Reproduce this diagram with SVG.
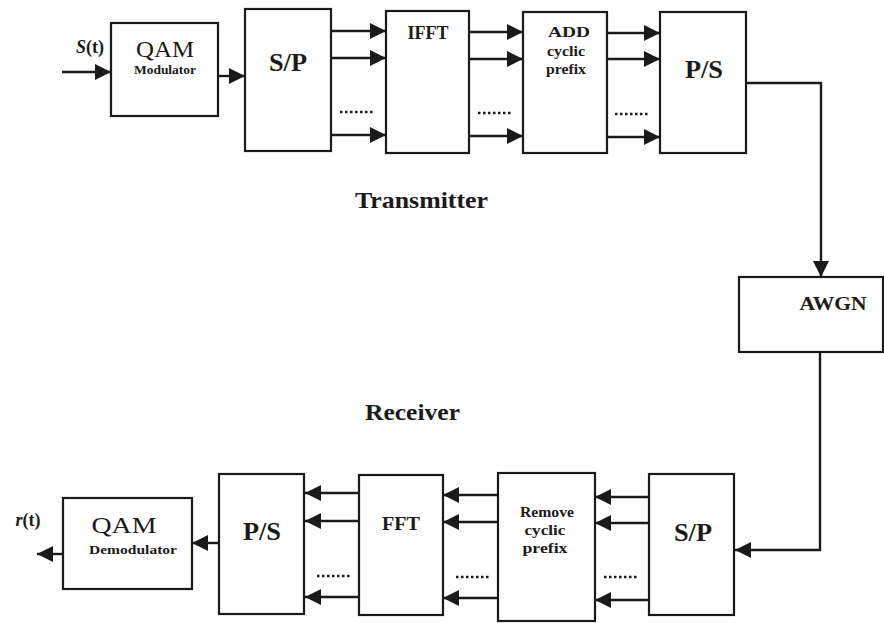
<svg xmlns="http://www.w3.org/2000/svg" width="884" height="623" viewBox="0 0 884 623">
  <style>
    .box { fill: #ffffff; stroke: #1a1a1a; stroke-width: 2.2; }
    .arr { fill: none; stroke: #1a1a1a; stroke-width: 2.4; marker-end: url(#ah); }
    .dots { fill: none; stroke: #1a1a1a; stroke-width: 2.5; stroke-dasharray: 2.5 2.5; }
    text { fill: #1a1a1a; text-anchor: middle; }
    .b { font-weight: bold; }
  </style>
  <defs>
    <marker id="ah" markerUnits="userSpaceOnUse" markerWidth="18" markerHeight="16" refX="16" refY="8" orient="auto">
      <path d="M0,0 L16,8 L0,16 z" fill="#1a1a1a"/>
    </marker>
  </defs>
  <rect x="0" y="0" width="884" height="623" fill="#ffffff"/>

  <g id="connectors">
    <line class="arr" x1="62" y1="72" x2="111" y2="72"/>
    <line class="arr" x1="218" y1="76" x2="245" y2="76"/>
    <line class="arr" x1="331" y1="31" x2="386" y2="31"/>
    <line class="arr" x1="331" y1="58" x2="386" y2="58"/>
    <line class="arr" x1="331" y1="135" x2="386" y2="135"/>
    <line class="dots" x1="340" y1="112" x2="374" y2="112"/>
    <line class="arr" x1="469" y1="32" x2="523" y2="32"/>
    <line class="arr" x1="469" y1="59" x2="523" y2="59"/>
    <line class="arr" x1="469" y1="136" x2="523" y2="136"/>
    <line class="dots" x1="478" y1="113" x2="512" y2="113"/>
    <line class="arr" x1="607" y1="33" x2="660" y2="33"/>
    <line class="arr" x1="607" y1="59" x2="660" y2="59"/>
    <line class="arr" x1="607" y1="137" x2="660" y2="137"/>
    <line class="dots" x1="615" y1="114" x2="649" y2="114"/>
    <polyline class="arr" points="746,83 821,83 821,277"/>
    <polyline class="arr" points="820,352 820,550 735,550"/>
    <line class="arr" x1="649" y1="497" x2="595" y2="497"/>
    <line class="arr" x1="649" y1="523" x2="595" y2="523"/>
    <line class="arr" x1="649" y1="600" x2="595" y2="600"/>
    <line class="dots" x1="604" y1="577" x2="638" y2="577"/>
    <line class="arr" x1="498" y1="495" x2="443" y2="495"/>
    <line class="arr" x1="498" y1="522" x2="443" y2="522"/>
    <line class="arr" x1="498" y1="598" x2="443" y2="598"/>
    <line class="dots" x1="456" y1="577" x2="490" y2="577"/>
    <line class="arr" x1="359" y1="493" x2="305" y2="493"/>
    <line class="arr" x1="359" y1="521" x2="305" y2="521"/>
    <line class="arr" x1="359" y1="597" x2="305" y2="597"/>
    <line class="dots" x1="317" y1="576" x2="352" y2="576"/>
    <line class="arr" x1="219" y1="543" x2="192" y2="543"/>
    <line class="arr" x1="63" y1="554" x2="37" y2="554"/>
  </g>

  <g font-family="Liberation Serif, serif">
  <g id="labels">
    <text x="90" y="53" font-size="18" class="b"><tspan font-style="italic">S</tspan>(t)</text>
    <text x="28" y="526" font-size="18" class="b"><tspan font-style="italic">r</tspan>(t)</text>
    <text x="421.5" y="208" font-size="23" class="b" textLength="133" lengthAdjust="spacingAndGlyphs">Transmitter</text>
    <text x="412.5" y="420" font-size="23" class="b" textLength="95" lengthAdjust="spacingAndGlyphs">Receiver</text>
  </g>

  <g id="qam-mod">
    <rect class="box" x="111" y="23" width="107" height="93"/>
    <text x="165" y="57" font-size="23" textLength="58" lengthAdjust="spacingAndGlyphs">QAM</text>
    <text x="165" y="74" font-size="12" class="b" textLength="62" lengthAdjust="spacingAndGlyphs">Modulator</text>
  </g>
  <g id="sp-tx">
    <rect class="box" x="245" y="9" width="86" height="142"/>
    <text x="288" y="71" font-size="26" class="b" textLength="38" lengthAdjust="spacingAndGlyphs">S/P</text>
  </g>
  <g id="ifft">
    <rect class="box" x="386" y="11" width="83" height="142"/>
    <text x="428" y="39" font-size="19" class="b" textLength="41" lengthAdjust="spacingAndGlyphs">IFFT</text>
  </g>
  <g id="add-cp">
    <rect class="box" x="523" y="12" width="84" height="141"/>
    <text x="569" y="37" font-size="14" class="b" textLength="42" lengthAdjust="spacingAndGlyphs">ADD</text>
    <text x="566" y="56" font-size="15" class="b" textLength="38" lengthAdjust="spacingAndGlyphs">cyclic</text>
    <text x="566" y="74" font-size="15" class="b" textLength="40" lengthAdjust="spacingAndGlyphs">prefix</text>
  </g>
  <g id="ps-tx">
    <rect class="box" x="660" y="12" width="86" height="141"/>
    <text x="704" y="78" font-size="26" class="b" textLength="38" lengthAdjust="spacingAndGlyphs">P/S</text>
  </g>
  <g id="awgn">
    <rect class="box" x="739" y="277" width="144" height="75"/>
    <text x="833" y="310" font-size="19" class="b" textLength="67" lengthAdjust="spacingAndGlyphs">AWGN</text>
  </g>
  <g id="sp-rx">
    <rect class="box" x="649" y="474" width="85" height="141"/>
    <text x="693" y="541" font-size="26" class="b" textLength="38" lengthAdjust="spacingAndGlyphs">S/P</text>
  </g>
  <g id="remove-cp">
    <rect class="box" x="498" y="473" width="97" height="148"/>
    <text x="547" y="517" font-size="15" class="b" textLength="54" lengthAdjust="spacingAndGlyphs">Remove</text>
    <text x="545" y="535" font-size="15" class="b" textLength="41" lengthAdjust="spacingAndGlyphs">cyclic</text>
    <text x="545" y="553" font-size="15" class="b" textLength="45" lengthAdjust="spacingAndGlyphs">prefix</text>
  </g>
  <g id="fft">
    <rect class="box" x="359" y="475" width="84" height="140"/>
    <text x="401" y="530" font-size="18" class="b" textLength="38" lengthAdjust="spacingAndGlyphs">FFT</text>
  </g>
  <g id="ps-rx">
    <rect class="box" x="219" y="474" width="85" height="140"/>
    <text x="262" y="540" font-size="26" class="b" textLength="38" lengthAdjust="spacingAndGlyphs">P/S</text>
  </g>
  <g id="qam-demod">
    <rect class="box" x="63" y="498" width="129" height="91"/>
    <text x="124" y="533" font-size="23" textLength="65" lengthAdjust="spacingAndGlyphs">QAM</text>
    <text x="133" y="554" font-size="13" class="b" textLength="88" lengthAdjust="spacingAndGlyphs">Demodulator</text>
  </g>
  </g>
</svg>
